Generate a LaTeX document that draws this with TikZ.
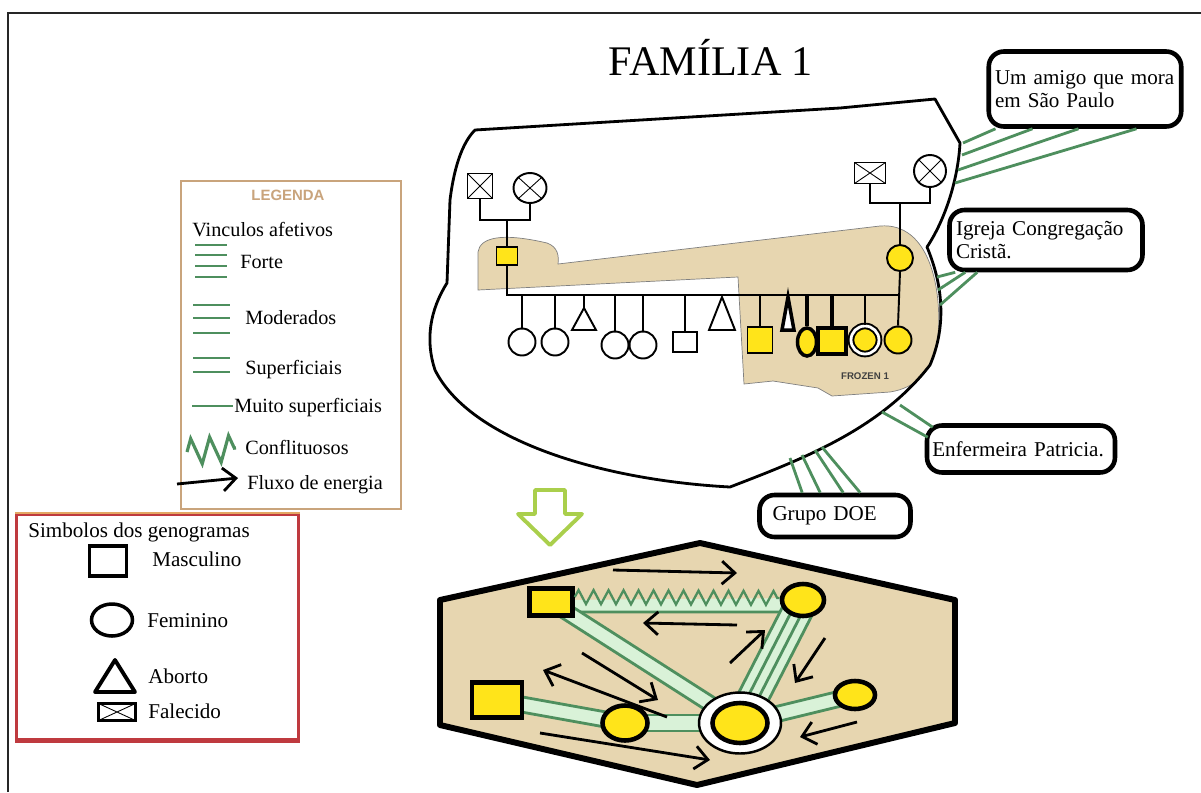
\documentclass[tikz,border=0pt]{standalone}
\usepackage{fontspec}
\setmainfont{Liberation Serif}
\setsansfont{Liberation Sans}
\usetikzlibrary{arrows.meta,positioning,calc,shapes.geometric,decorations.pathmorphing}
\definecolor{vin}{HTML}{4E8F5E}
\definecolor{vinl}{HTML}{D9F2D8}
\definecolor{bege}{HTML}{E7D6B0}
\definecolor{ama}{HTML}{FFE41A}
\definecolor{leg}{HTML}{C9A47C}
\definecolor{ver}{HTML}{BF3A3F}
\definecolor{lar}{HTML}{E4A864}
\definecolor{seta}{HTML}{AACF4C}
\pgfdeclarelayer{fundo}
\pgfdeclarelayer{ligas}
\pgfsetlayers{fundo,ligas,main}
\newcommand{\vinculo}[4]{%
  \pgfmathsetmacro\vw{(#3-1)/2*#4}%
  \fill[vinl] ($(#1)!\vw mm!90:(#2)$) -- ($(#2)!\vw mm!-90:(#1)$) -- ($(#2)!\vw mm!90:(#1)$) -- ($(#1)!\vw mm!-90:(#2)$) -- cycle;
  \foreach \k in {1,...,#3} {\pgfmathsetmacro\vo{(\k-1)*#4-\vw}
    \draw[vinc] ($(#1)!\vo mm!90:(#2)$) -- ($(#2)!\vo mm!-90:(#1)$);}}

\begin{document}
\begin{tikzpicture}[x=0.02cm, y=-0.02cm,
  gen/.style={line width=1.1pt},
  masc/.style={rectangle, draw, gen, inner sep=0pt, minimum width=4.8mm, minimum height=4mm},
  fem/.style={ellipse, draw, gen, inner sep=0pt, minimum width=5.4mm, minimum height=5.4mm},
  mort/.style={path picture={\draw[line width=.5pt] (path picture bounding box.north west) -- (path picture bounding box.south east) (path picture bounding box.south west) -- (path picture bounding box.north east);}},
  vinc/.style={draw=vin, line width=1.6pt},
  fluxo/.style={-{Straight Barb[length=2.6mm, width=4.6mm]}, line width=1.6pt},
  rel/.style={draw, line width=2.6pt, rounded corners=3mm, fill=white, align=left, inner sep=0pt, font=\fontsize{12}{13.5}\selectfont},
  lt/.style={anchor=mid west, inner sep=0pt, font=\fontsize{11.5}{13}\selectfont},
  st/.style={anchor=mid west, inner sep=0pt, font=\fontsize{12}{14}\selectfont},
  hq/.style={rectangle, draw, line width=2.6pt, fill=ama, inner sep=0pt},
  he/.style={ellipse, draw, line width=2.6pt, fill=ama, inner sep=0pt}]
\useasboundingbox (0,0) rectangle (1201,792);
\draw[line width=1pt, black!85] (8,792) -- (8,13) -- (1201,13);
\node[font=\fontsize{24}{28}\selectfont, anchor=base] (titulo) at (711,75) {FAMÍLIA 1};

% legenda
\node[draw=leg, line width=1.4pt, fill=white, minimum width=44mm, minimum height=65.6mm, anchor=north west] (legenda) at (180,180) {};
\node[font=\sffamily\bfseries\fontsize{8.5}{10}\selectfont, text=leg] (legt) at (288,195) {LEGENDA};
\node[lt] (afet) at (192,232) {Vinculos afetivos};
\node[lt] (forte) at (240,264) {Forte};
\node[lt] (mod) at (245,320) {Moderados};
\node[lt] (sup) at (245,370) {Superficiais};
\node[lt] (msup) at (234,408) {Muito superficiais};
\node[lt] (conf) at (245,450) {Conflituosos};
\node[lt] (flux) at (247,485) {Fluxo de energia};
\foreach \y in {245,255,266,277} \draw[vinc] (195,\y) -- (227,\y);
\foreach \y in {305,318,333} \draw[vinc] (193,\y) -- (230,\y);
\foreach \y in {358,372} \draw[vinc] (193,\y) -- (230,\y);
\draw[vinc] (192,406) -- (233,406);
\draw[vin, line width=1.8pt, decorate, decoration={zigzag, segment length=3.8mm, amplitude=2.6mm}] (187,452) -- (236,448);
\draw[fluxo] (177,484) -- (238,478);

% simbolos
\node[draw=ver, line width=1.6pt, fill=white, minimum width=56.4mm, minimum height=45mm, anchor=north west] (simb) at (15,513) {};
\draw[lar, line width=1.6pt] (simb.north west) -- (simb.north east);
\draw[ver, line width=3pt] (simb.south west) -- (simb.south east);
\node[st] (simbt) at (28,533) {Simbolos dos genogramas};
\node[masc, line width=2.2pt, minimum width=7.4mm, minimum height=6mm] (sm) at (108,561) {};
\node[st] (smt) at (152,562) {Masculino};
\node[fem, line width=2pt, minimum width=8.2mm, minimum height=6.4mm] (sf) at (112,620) {};
\node[st] (sft) at (147,623) {Feminino};
\coordinate (sa) at (115,660);
\draw[line width=2.2pt, line join=round] (sa) -- ++(-20,32) -- ++(40,0) -- cycle;
\node[st] (sat) at (148,679) {Aborto};
\node[masc, mort, line width=2.2pt, minimum width=7.4mm, minimum height=3.4mm] (sx) at (117,712) {};
\node[st] (sxt) at (148,714) {Falecido};

% familia
\begin{pgfonlayer}{fundo}
\fill[bege, draw=black!50, line width=.4pt] (478,290) -- (478,252) .. controls (480,238) and (500,232) .. (547,243) .. controls (558,247) and (559,256) .. (558,264) -- (880,226) .. controls (930,222) and (942,290) .. (938,335) .. controls (935,372) and (915,388) .. (890,392) -- (832,396) -- (818,388) -- (773,381) -- (744,384) -- (738,277) -- cycle;
\path[fill=bege, draw=black, line width=3.4pt, line join=round] (440,600) -- (700,543) -- (955,600) -- (955,723) -- (697,785) -- (440,725) -- cycle;
\end{pgfonlayer}
\draw[line width=1.6pt, line join=round] (475,130) -- (840,108) -- (935,99) -- (960,143) .. controls (958,180) and (945,220) .. (927,247) .. controls (945,290) and (945,330) .. (930,365) .. controls (880,430) and (800,460) .. (730,487) .. controls (600,480) and (470,440) .. (435,370) .. controls (425,340) and (430,310) .. (447,283) -- (450,200) .. controls (455,160) and (465,140) .. (475,130) -- cycle;

\coordinate (linha) at (700,295);
\node[masc, mort, minimum width=5mm, minimum height=5mm] (avo1) at (480,186) {};
\node[fem, mort, minimum width=6.6mm, minimum height=6mm] (ava1) at (530,188) {};
\node[masc, fill=ama, minimum width=4.2mm, minimum height=3.6mm] (pai) at (507,256) {};
\node[masc, mort, minimum width=6.2mm, minimum height=4.2mm] (avo2) at (870,173) {};
\node[fem, mort, minimum width=6.4mm, minimum height=6.4mm] (ava2) at (930,171) {};
\node[fem, fill=ama, minimum width=5.2mm, minimum height=5.2mm] (mae) at (900,258) {};
\coordinate (u1) at (507,220);
\coordinate (u2) at (900,203);
\draw[gen] (avo1.south) |- (u1) -| (ava1.south);
\draw[gen] (u1) -- (pai.north);
\draw[gen] (avo2.south) |- (u2) -| (ava2.south);
\draw[gen] (u2) -- (mae.north);
\draw[gen] (pai.south) -- (pai.south |- linha) -- (mae.south |- linha);

\node[fem] (f1) at (522,342) {};
\node[fem] (f2) at (555,342) {};
\node[fem] (f3) at (615,345) {};
\node[fem] (f4) at (643,345) {};
\node[masc] (m1) at (685,342) {};
\node[masc, fill=ama, minimum width=5mm, minimum height=5.2mm] (m2) at (760,340) {};
\node[fem, fill=ama, line width=2pt, minimum width=3.8mm, minimum height=5.6mm] (f5) at (807,342) {};
\node[masc, fill=ama, line width=2pt, minimum width=5.6mm, minimum height=5.2mm] (m3) at (832,341) {};
\node[fem, fill=ama, double, double distance=1.6pt, minimum size=5.6mm] (f6) at (865,340) {};
\node[fem, fill=ama] (f7) at (898,340) {};
\coordinate (a1) at (584,308);
\coordinate (a2) at (722,297);
\coordinate (a3) at (788,297);
\draw[gen, fill=white] (a1) -- ++(-12,22) -- ++(24,0) -- cycle;
\draw[gen, fill=white] (a2) -- ++(-13,33) -- ++(26,0) -- cycle;
\draw[line width=2pt, fill=white] (a3) -- ++(-6,33) -- ++(12,0) -- cycle;
\draw[gen] (a1) -- (a1 |- linha);
\foreach \c in {f1,f2,f3,f4,m1,m2,f6} \draw[gen] (\c.north) -- (\c.north |- linha);
\foreach \c in {f5,m3} \draw[line width=2pt] (\c.north) -- (\c.north |- linha);
\draw[gen] (mae.south) -- (f7.north);
\node[font=\sffamily\bfseries\fontsize{5.5}{6}\selectfont, text=black!75] (frozen) at (865,376) {FROZEN 1};

% rede externa
\node[rel, minimum width=38.5mm, minimum height=15mm, text width=36mm] (amigo) at (1085,89) {Um amigo que mora\\em São Paulo};
\node[rel, minimum width=38.6mm, minimum height=12mm, text width=36mm] (igreja) at (1046,240) {Igreja Congregação\\Cristã.};
\node[rel, minimum width=37.6mm, minimum height=9.4mm, text width=35.5mm] (enf) at (1021,449) {Enfermeira Patricia.};
\node[rel, minimum width=30.2mm, minimum height=8.4mm, text width=25mm] (grupo) at (835,516) {Grupo DOE};
\foreach \i/\d/\p in {1/9/{963,143}, 2/46/{962,155}, 3/92/{958,170}, 4/150/{955,183}} {
  \coordinate (am\i) at (\p);
  \draw[vinc] ([xshift=\d*0.2mm]amigo.south west) -- (am\i);}
\foreach \i/\d/\p in {1/8/{937,277}, 2/18/{938,290}, 3/30/{940,305}} {
  \coordinate (ig\i) at (\p);
  \draw[vinc] ([xshift=\d*0.2mm]igreja.south west) -- (ig\i);}
\foreach \i/\s/\p in {1/{8,4}/{900,405}, 2/{3,14}/{882,412}} {
  \coordinate (en\i) at (\p);
  \draw[vinc] ([shift={(\s)}]enf.north west) -- (en\i);}
\foreach \i/\d/\p in {1/45/{790,458}, 2/63/{802,455}, 3/86/{815,450}, 4/103/{822,447}} {
  \coordinate (gr\i) at (\p);
  \draw[vinc] ([xshift=\d*0.2mm]grupo.north west) -- (gr\i);}

\draw[seta, line width=2.2pt, line join=round] (535,490) -- (565,490) -- (565,514) -- (582,514) -- (550,545) -- (518,514) -- (535,514) -- cycle;

% familia nuclear
\node[hq, minimum width=8.6mm, minimum height=5.4mm] (h1) at (551,602) {};
\node[he, minimum width=8.4mm, minimum height=6.4mm] (h2) at (803,600) {};
\node[hq, minimum width=10mm, minimum height=7mm] (h3) at (497,700) {};
\node[he, minimum width=9mm, minimum height=7mm] (h4) at (625,723) {};
\node[ellipse, draw, line width=1.4pt, fill=white, minimum width=16.4mm, minimum height=12.2mm] (h5) at (740,723) {};
\node[he, minimum width=11mm, minimum height=8mm] (h5i) at (740,723) {};
\node[he, minimum width=8mm, minimum height=5.6mm] (h6) at (855,695) {};
\begin{pgfonlayer}{ligas}
\fill[vinl] ([yshift=0.4mm]h1.center) -- ([yshift=0.4mm]h2.center) -- ([yshift=-2.4mm]h2.center) -- ([yshift=-2mm]h1.center) -- cycle;
\draw[vinc] ([yshift=-2mm]h1.center) -- ([yshift=-2.4mm]h2.center);
\vinculo{h1}{h5}{2}{3}
\vinculo{h2}{h5}{4}{2}
\vinculo{h3}{h4}{2}{3}
\vinculo{h4}{h5}{2}{3.2}
\vinculo{h5}{h6}{2}{3}
\end{pgfonlayer}
\coordinate (z1) at ([yshift=1mm]h1.east);
\coordinate (z2) at ([yshift=0.4mm]h2.west);
\draw[vin, line width=1.3pt, decorate, decoration={zigzag, segment length=3mm, amplitude=1.4mm}] (z1) -- (z2);
\foreach \a/\b in {{613,570}/{737,573}, {737,625}/{643,623}, {730,663}/{765,630}, {825,638}/{795,683}, {582,653}/{658,700}, {667,717}/{543,670}, {540,733}/{710,760}, {857,722}/{800,737}}
  \draw[fluxo] (\a) -- (\b);
\end{tikzpicture}
\end{document}
